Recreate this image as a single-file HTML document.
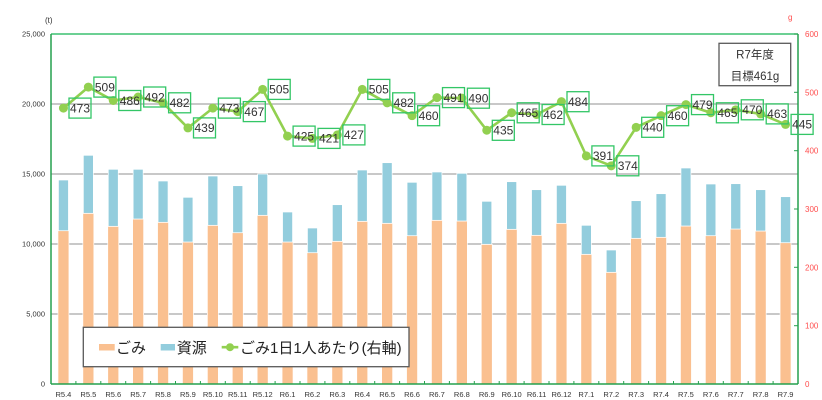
<!DOCTYPE html>
<html><head><meta charset="utf-8"><style>
html,body{margin:0;padding:0;background:#fff;}
svg{display:block;font-family:"Liberation Sans","Noto Sans CJK JP",sans-serif;}
</style></head><body>
<svg width="822" height="400" viewBox="0 0 822 400" xmlns="http://www.w3.org/2000/svg">
<rect x="0" y="0" width="822" height="400" fill="#fff"/>
<!-- gridlines -->
<g stroke="#A6A6A6" stroke-width="1.3">
<line x1="51" y1="104" x2="798" y2="104"/>
<line x1="51" y1="174" x2="798" y2="174"/>
<line x1="51" y1="244" x2="798" y2="244"/>
<line x1="51" y1="314" x2="798" y2="314"/>
</g>
<line x1="51" y1="34" x2="798" y2="34" stroke="#3CC070" stroke-width="1.5"/>
<!-- bars -->
<g stroke="#ffffff" stroke-width="0.7">
<g fill="#FAC090">
<rect x="57.95" y="230.7" width="11" height="153.3"/>
<rect x="82.85" y="213.3" width="11" height="170.7"/>
<rect x="107.75" y="226.3" width="11" height="157.7"/>
<rect x="132.65" y="219" width="11" height="165"/>
<rect x="157.55" y="222.3" width="11" height="161.7"/>
<rect x="182.45" y="242" width="11" height="142"/>
<rect x="207.35" y="225.3" width="11" height="158.7"/>
<rect x="232.25" y="232.7" width="11" height="151.3"/>
<rect x="257.15" y="215.3" width="11" height="168.7"/>
<rect x="282.05" y="242" width="11" height="142"/>
<rect x="306.95" y="252.7" width="11" height="131.3"/>
<rect x="331.85" y="241.3" width="11" height="142.7"/>
<rect x="356.75" y="221.3" width="11" height="162.7"/>
<rect x="381.65" y="223.3" width="11" height="160.7"/>
<rect x="406.55" y="235.7" width="11" height="148.3"/>
<rect x="431.45" y="220.3" width="11" height="163.7"/>
<rect x="456.35" y="221" width="11" height="163"/>
<rect x="481.25" y="244.3" width="11" height="139.7"/>
<rect x="506.15" y="229.3" width="11" height="154.7"/>
<rect x="531.05" y="235.3" width="11" height="148.7"/>
<rect x="555.95" y="223.3" width="11" height="160.7"/>
<rect x="580.85" y="254.3" width="11" height="129.7"/>
<rect x="605.75" y="272.3" width="11" height="111.7"/>
<rect x="630.65" y="238.3" width="11" height="145.7"/>
<rect x="655.55" y="237.3" width="11" height="146.7"/>
<rect x="680.45" y="226" width="11" height="158"/>
<rect x="705.35" y="235.7" width="11" height="148.3"/>
<rect x="730.25" y="229" width="11" height="155"/>
<rect x="755.15" y="231" width="11" height="153"/>
<rect x="780.05" y="242.7" width="11" height="141.3"/>
</g>
<g fill="#93CDDD">
<rect x="58.45" y="180" width="10" height="50.7"/>
<rect x="83.35" y="155.3" width="10" height="58"/>
<rect x="108.25" y="169.3" width="10" height="57"/>
<rect x="133.15" y="169.3" width="10" height="49.7"/>
<rect x="158.05" y="181" width="10" height="41.3"/>
<rect x="182.95" y="197.3" width="10" height="44.7"/>
<rect x="207.85" y="176" width="10" height="49.3"/>
<rect x="232.75" y="185.7" width="10" height="47"/>
<rect x="257.65" y="174" width="10" height="41.3"/>
<rect x="282.55" y="212" width="10" height="30"/>
<rect x="307.45" y="228" width="10" height="24.7"/>
<rect x="332.35" y="204.7" width="10" height="36.6"/>
<rect x="357.25" y="170" width="10" height="51.3"/>
<rect x="382.15" y="162.7" width="10" height="60.6"/>
<rect x="407.05" y="182.3" width="10" height="53.4"/>
<rect x="431.95" y="172" width="10" height="48.3"/>
<rect x="456.85" y="173.3" width="10" height="47.7"/>
<rect x="481.75" y="201.3" width="10" height="43"/>
<rect x="506.65" y="181.7" width="10" height="47.6"/>
<rect x="531.55" y="189.7" width="10" height="45.6"/>
<rect x="556.45" y="185.3" width="10" height="38"/>
<rect x="581.35" y="225.3" width="10" height="29"/>
<rect x="606.25" y="250" width="10" height="22.3"/>
<rect x="631.15" y="200.7" width="10" height="37.6"/>
<rect x="656.05" y="193.7" width="10" height="43.6"/>
<rect x="680.95" y="168" width="10" height="58"/>
<rect x="705.85" y="184" width="10" height="51.7"/>
<rect x="730.75" y="183.7" width="10" height="45.3"/>
<rect x="755.65" y="189.7" width="10" height="41.3"/>
<rect x="780.55" y="196.7" width="10" height="46"/>
</g>
</g>
<!-- axes -->
<g stroke="#25A04E" stroke-width="1.5" fill="none">
<line x1="51" y1="34" x2="51" y2="384"/>
<line x1="798" y1="34" x2="798" y2="384"/>
<line x1="51" y1="384" x2="798" y2="384"/>
</g>
<g stroke="#25A04E" stroke-width="1">
<line x1="794" y1="34" x2="798" y2="34"/><line x1="794" y1="92.3" x2="798" y2="92.3"/><line x1="794" y1="150.7" x2="798" y2="150.7"/><line x1="794" y1="209" x2="798" y2="209"/><line x1="794" y1="267.3" x2="798" y2="267.3"/><line x1="794" y1="325.7" x2="798" y2="325.7"/>
<line x1="75.9" y1="381" x2="75.9" y2="384"/><line x1="100.8" y1="381" x2="100.8" y2="384"/><line x1="125.7" y1="381" x2="125.7" y2="384"/><line x1="150.6" y1="381" x2="150.6" y2="384"/><line x1="175.5" y1="381" x2="175.5" y2="384"/><line x1="200.4" y1="381" x2="200.4" y2="384"/><line x1="225.3" y1="381" x2="225.3" y2="384"/><line x1="250.2" y1="381" x2="250.2" y2="384"/><line x1="275.1" y1="381" x2="275.1" y2="384"/><line x1="300" y1="381" x2="300" y2="384"/><line x1="324.9" y1="381" x2="324.9" y2="384"/><line x1="349.8" y1="381" x2="349.8" y2="384"/><line x1="374.7" y1="381" x2="374.7" y2="384"/><line x1="399.6" y1="381" x2="399.6" y2="384"/><line x1="424.5" y1="381" x2="424.5" y2="384"/><line x1="449.4" y1="381" x2="449.4" y2="384"/><line x1="474.3" y1="381" x2="474.3" y2="384"/><line x1="499.2" y1="381" x2="499.2" y2="384"/><line x1="524.1" y1="381" x2="524.1" y2="384"/><line x1="549" y1="381" x2="549" y2="384"/><line x1="573.9" y1="381" x2="573.9" y2="384"/><line x1="598.8" y1="381" x2="598.8" y2="384"/><line x1="623.7" y1="381" x2="623.7" y2="384"/><line x1="648.6" y1="381" x2="648.6" y2="384"/><line x1="673.5" y1="381" x2="673.5" y2="384"/><line x1="698.4" y1="381" x2="698.4" y2="384"/><line x1="723.3" y1="381" x2="723.3" y2="384"/><line x1="748.2" y1="381" x2="748.2" y2="384"/><line x1="773.1" y1="381" x2="773.1" y2="384"/>
</g>
<!-- line series -->
<polyline fill="none" stroke="#92D050" stroke-width="2.6" stroke-linejoin="round" points="63.45,108.08 88.35,87.08 113.25,100.5 138.15,97 163.05,102.83 187.95,127.92 212.85,108.08 237.75,111.58 262.65,89.42 287.55,136.08 312.45,138.42 337.35,134.92 362.25,89.42 387.15,102.83 412.05,115.67 436.95,97.58 461.85,98.17 486.75,130.25 511.65,112.75 536.55,114.5 561.45,101.67 586.35,155.92 611.25,165.83 636.15,127.33 661.05,115.67 685.95,104.58 710.85,112.75 735.75,109.83 760.65,113.92 785.55,124.42"/>
<g fill="#92D050">
<circle cx="63.45" cy="108.08" r="4.5"/><circle cx="88.35" cy="87.08" r="4.5"/><circle cx="113.25" cy="100.5" r="4.5"/><circle cx="138.15" cy="97" r="4.5"/><circle cx="163.05" cy="102.83" r="4.5"/><circle cx="187.95" cy="127.92" r="4.5"/><circle cx="212.85" cy="108.08" r="4.5"/><circle cx="237.75" cy="111.58" r="4.5"/><circle cx="262.65" cy="89.42" r="4.5"/><circle cx="287.55" cy="136.08" r="4.5"/><circle cx="312.45" cy="138.42" r="4.5"/><circle cx="337.35" cy="134.92" r="4.5"/><circle cx="362.25" cy="89.42" r="4.5"/><circle cx="387.15" cy="102.83" r="4.5"/><circle cx="412.05" cy="115.67" r="4.5"/><circle cx="436.95" cy="97.58" r="4.5"/><circle cx="461.85" cy="98.17" r="4.5"/><circle cx="486.75" cy="130.25" r="4.5"/><circle cx="511.65" cy="112.75" r="4.5"/><circle cx="536.55" cy="114.5" r="4.5"/><circle cx="561.45" cy="101.67" r="4.5"/><circle cx="586.35" cy="155.92" r="4.5"/><circle cx="611.25" cy="165.83" r="4.5"/><circle cx="636.15" cy="127.33" r="4.5"/><circle cx="661.05" cy="115.67" r="4.5"/><circle cx="685.95" cy="104.58" r="4.5"/><circle cx="710.85" cy="112.75" r="4.5"/><circle cx="735.75" cy="109.83" r="4.5"/><circle cx="760.65" cy="113.92" r="4.5"/><circle cx="785.55" cy="124.42" r="4.5"/>
</g>
<!-- data labels -->
<g fill="none" stroke="#33C666" stroke-width="1.3">
<rect x="69" y="98.1" width="22" height="20"/><rect x="93.9" y="77.1" width="22" height="20"/><rect x="118.8" y="90.5" width="22" height="20"/><rect x="143.7" y="87" width="22" height="20"/><rect x="168.6" y="92.8" width="22" height="20"/><rect x="193.5" y="117.9" width="22" height="20"/><rect x="218.4" y="98.1" width="22" height="20"/><rect x="243.3" y="101.6" width="22" height="20"/><rect x="268.2" y="79.4" width="22" height="20"/><rect x="293.1" y="126.1" width="22" height="20"/><rect x="318" y="128.4" width="22" height="20"/><rect x="342.9" y="124.9" width="22" height="20"/><rect x="367.8" y="79.4" width="22" height="20"/><rect x="392.7" y="92.8" width="22" height="20"/><rect x="417.6" y="105.7" width="22" height="20"/><rect x="442.5" y="87.6" width="22" height="20"/><rect x="467.4" y="88.2" width="22" height="20"/><rect x="492.3" y="120.3" width="22" height="20"/><rect x="517.2" y="102.8" width="22" height="20"/><rect x="542.1" y="104.5" width="22" height="20"/><rect x="567" y="91.7" width="22" height="20"/><rect x="591.9" y="145.9" width="22" height="20"/><rect x="616.8" y="155.8" width="22" height="20"/><rect x="641.7" y="117.3" width="22" height="20"/><rect x="666.6" y="105.7" width="22" height="20"/><rect x="691.5" y="94.6" width="22" height="20"/><rect x="716.4" y="102.8" width="22" height="20"/><rect x="741.3" y="99.8" width="22" height="20"/><rect x="766.2" y="103.9" width="22" height="20"/><rect x="791.1" y="114.4" width="22" height="20"/>
</g>
<g fill="#333" font-size="12" text-anchor="middle">
<text x="80" y="112.4">473</text><text x="104.9" y="91.4">509</text><text x="129.8" y="104.8">486</text><text x="154.7" y="101.3">492</text><text x="179.6" y="107.1">482</text><text x="204.5" y="132.2">439</text><text x="229.4" y="112.4">473</text><text x="254.3" y="115.9">467</text><text x="279.2" y="93.7">505</text><text x="304.1" y="140.4">425</text><text x="329" y="142.7">421</text><text x="353.9" y="139.2">427</text><text x="378.8" y="93.7">505</text><text x="403.7" y="107.1">482</text><text x="428.6" y="120">460</text><text x="453.5" y="101.9">491</text><text x="478.4" y="102.5">490</text><text x="503.3" y="134.6">435</text><text x="528.2" y="117.1">465</text><text x="553.1" y="118.8">462</text><text x="578" y="106">484</text><text x="602.9" y="160.2">391</text><text x="627.8" y="170.1">374</text><text x="652.7" y="131.6">440</text><text x="677.6" y="120">460</text><text x="702.5" y="108.9">479</text><text x="727.4" y="117.1">465</text><text x="752.3" y="114.1">470</text><text x="777.2" y="118.2">463</text><text x="802.1" y="128.7">445</text>
</g>
<!-- left axis labels -->
<g fill="#333" font-size="7.5" text-anchor="end">
<text x="45" y="36.7">25,000</text><text x="45" y="106.7">20,000</text><text x="45" y="176.7">15,000</text><text x="45" y="246.7">10,000</text><text x="45" y="316.7">5,000</text><text x="45" y="386.7">0</text>
</g>
<text x="45" y="23" fill="#333" font-size="8">(t)</text>
<!-- right axis labels -->
<g fill="#FF4D4D" font-size="8">
<text x="805" y="37">600</text><text x="805" y="95.3">500</text><text x="805" y="153.7">400</text><text x="805" y="212">300</text><text x="805" y="270.3">200</text><text x="805" y="328.7">100</text><text x="805" y="387">0</text>
</g>
<text x="788" y="20" fill="#FF4D4D" font-size="8">g</text>
<!-- x labels -->
<g fill="#333" font-size="7.5" text-anchor="middle">
<text x="63.45" y="397">R5.4</text><text x="88.35" y="397">R5.5</text><text x="113.25" y="397">R5.6</text><text x="138.15" y="397">R5.7</text><text x="163.05" y="397">R5.8</text><text x="187.95" y="397">R5.9</text><text x="212.85" y="397">R5.10</text><text x="237.75" y="397">R5.11</text><text x="262.65" y="397">R5.12</text><text x="287.55" y="397">R6.1</text><text x="312.45" y="397">R6.2</text><text x="337.35" y="397">R6.3</text><text x="362.25" y="397">R6.4</text><text x="387.15" y="397">R6.5</text><text x="412.05" y="397">R6.6</text><text x="436.95" y="397">R6.7</text><text x="461.85" y="397">R6.8</text><text x="486.75" y="397">R6.9</text><text x="511.65" y="397">R6.10</text><text x="536.55" y="397">R6.11</text><text x="561.45" y="397">R6.12</text><text x="586.35" y="397">R7.1</text><text x="611.25" y="397">R7.2</text><text x="636.15" y="397">R7.3</text><text x="661.05" y="397">R7.4</text><text x="685.95" y="397">R7.5</text><text x="710.85" y="397">R7.6</text><text x="735.75" y="397">R7.7</text><text x="760.65" y="397">R7.8</text><text x="785.55" y="397">R7.9</text>
</g>
<!-- R7 box -->
<rect x="719" y="43.3" width="71.7" height="42.4" fill="#fff" stroke="#595959" stroke-width="1.3"/>
<g fill="#333" font-size="11.5" text-anchor="middle">
<text x="755" y="58.5">R7年度</text>
<text x="755" y="80.2">目標461g</text>
</g>
<!-- legend -->
<rect x="83.3" y="327.3" width="325.7" height="39.4" fill="#fff" stroke="#595959" stroke-width="1.3"/>
<rect x="99" y="344" width="15.7" height="6.5" fill="#FAC090"/>
<rect x="160.7" y="344" width="14.3" height="6.5" fill="#93CDDD"/>
<line x1="221.7" y1="347.2" x2="238.3" y2="347.2" stroke="#92D050" stroke-width="2.6"/>
<circle cx="230" cy="347.2" r="4" fill="#92D050"/>
<g fill="#222" font-size="15">
<text x="116" y="352.8">ごみ</text>
<text x="176.7" y="352.8">資源</text>
<text x="240" y="352.8">ごみ1日1人あたり(右軸)</text>
</g>
</svg>
</body></html>
